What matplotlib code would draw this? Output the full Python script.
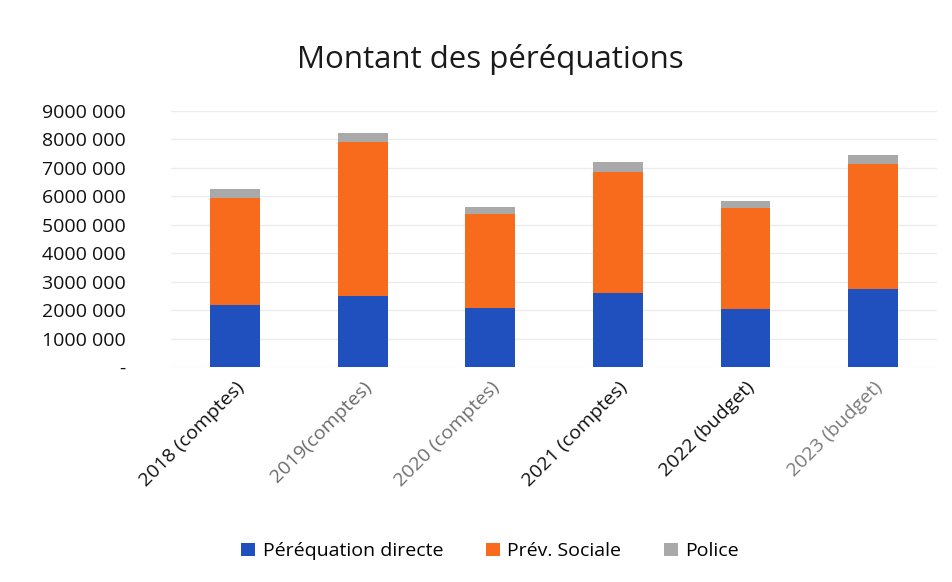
import numpy as np
import matplotlib
matplotlib.use("Agg")
import matplotlib.pyplot as plt
from matplotlib.ticker import FuncFormatter

# Values (CHF)
categories = ["2018 (comptes)", "2019(comptes)", "2020 (comptes)",
              "2021 (comptes)", "2022 (budget)", "2023 (budget)"]
perequation_directe = [2180000, 2490000, 2090000, 2620000, 2040000, 2730000]
prev_sociale = [3770000, 5410000, 3280000, 4230000, 3530000, 4390000]
police = [300000, 320000, 250000, 350000, 270000, 310000]

series_names = ["Péréquation directe", "Prév. Sociale", "Police"]
colors = ["#1f50bd", "#f86a1c", "#a9a9a9"]
label_colors = ["#111111", "#6a6a6a", "#6f6f6f", "#111111", "#111111", "#7a7a7a"]

plt.rcParams["font.family"] = ["Open Sans", "DejaVu Sans"]


def fmt(v, pos):
    if v == 0:
        return "-"
    s = f"{int(v):,}".replace(",", " ")
    # first separator is squeezed in the original ("9000 000")
    return s.replace(" ", "", 1) if s.count(" ") > 1 else s


fig = plt.figure(figsize=(9.52, 5.82), dpi=100)
ax = fig.add_axes([0.18, 0.369, 0.804, 0.441])

x = np.arange(len(categories))
w = 0.39
bottom = np.zeros(len(categories))
for vals, name, c in zip([perequation_directe, prev_sociale, police], series_names, colors):
    ax.bar(x, vals, w, bottom=bottom, color=c, label=name, zorder=3)
    bottom += np.array(vals)

ax.set_ylim(0, 9000000)
ax.set_xlim(-0.5, len(categories) - 0.5)
ax.set_yticks(np.arange(0, 9000001, 1000000))
ax.yaxis.set_major_formatter(FuncFormatter(fmt))
ax.grid(axis="y", color="#ececec", lw=1, zorder=0)
for s in ax.spines.values():
    s.set_visible(False)
ax.tick_params(axis="y", length=0, pad=33, labelsize=14, labelcolor="#111111")
ax.tick_params(axis="x", length=0, pad=8)

ax.set_xticks(x)
ax.set_xticklabels(categories, rotation=45, ha="right", rotation_mode="anchor", fontsize=14)
for lbl, c in zip(ax.get_xticklabels(), label_colors):
    lbl.set_color(c)

fig.text(0.515, 0.897, "Montant des péréquations", ha="center", va="center",
         fontsize=22.5, color="#1a1a1a")

fig.legend(loc="center", bbox_to_anchor=(0.515, 0.053), ncol=3, frameon=False,
           fontsize=14, handlelength=0.7, handleheight=0.7, handletextpad=0.4,
           columnspacing=2.2)

fig.savefig("out.png", dpi=100)
